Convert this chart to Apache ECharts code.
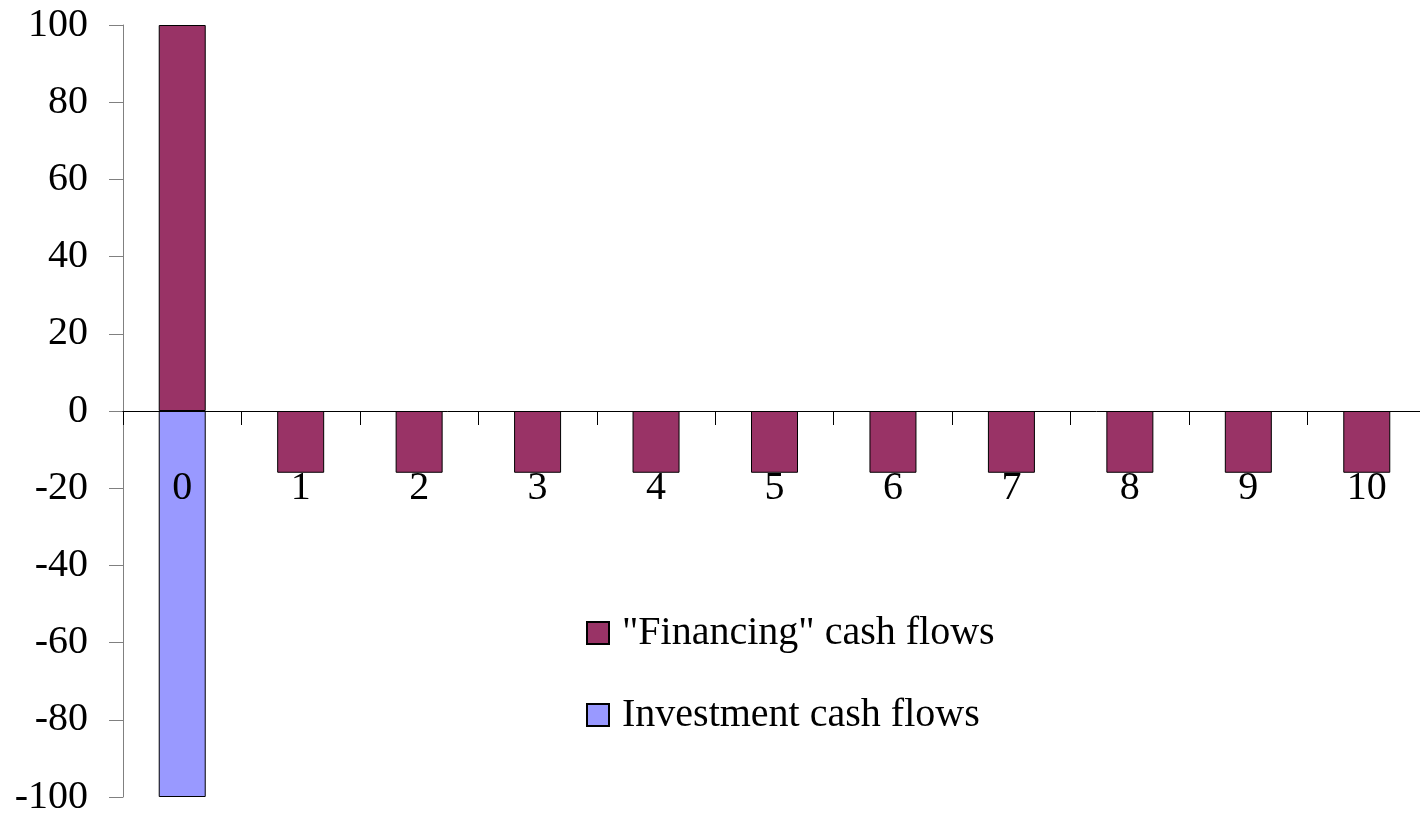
<!DOCTYPE html>
<html>
<head>
<meta charset="utf-8">
<script src="https://cdn.jsdelivr.net/npm/echarts@6/dist/echarts.min.js"></script>
<style>
html,body{margin:0;padding:0;background:#fff;}
#chart{width:1420px;height:815px;}
</style>
</head>
<body>
<div id="chart"></div>
<script>
const categories = ['0','1','2','3','4','5','6','7','8','9','10'];
const financing = [100,-16,-16,-16,-16,-16,-16,-16,-16,-16,-16];
const investment = [-100,null,null,null,null,null,null,null,null,null,null];
const seriesNames = ['"Financing" cash flows','Investment cash flows'];

const FONT = '"Liberation Serif", "DejaVu Serif", serif';
const chart = echarts.init(document.getElementById('chart'), null, {renderer:'canvas'});
chart.setOption({
  animation:false,
  backgroundColor:'#fff',
  textStyle:{fontFamily:FONT},
  grid:{left:123, right:-6, top:25, bottom:18, containLabel:false, outerBoundsMode:'none'},
  legend:{
    orient:'vertical', left:581, top:608,
    itemWidth:22, itemHeight:22, itemGap:42,
    icon:'rect',
    textStyle:{fontFamily:FONT, fontSize:40, color:'#000', padding:[0,0,0,8]},
    data:seriesNames
  },
  xAxis:{
    type:'category', data:categories, z:5,
    axisLine:{onZero:true, lineStyle:{color:'#000', width:1}},
    axisTick:{show:true, length:14, inside:false, lineStyle:{color:'#000'}},
    axisLabel:{margin:-329, fontFamily:FONT, fontSize:40, color:'#000'},
    splitLine:{show:false}
  },
  yAxis:{
    type:'value', min:-100, max:100, interval:20,
    axisLine:{show:true, lineStyle:{color:'#808080', width:1}},
    axisTick:{show:true, length:14, lineStyle:{color:'#808080'}},
    axisLabel:{margin:35, fontFamily:FONT, fontSize:40, color:'#000'},
    splitLine:{show:false}
  },
  series:[
    {name:seriesNames[0], type:'bar', stack:'cf', data:financing, barWidth:47,
     itemStyle:{color:'#993366', borderColor:'#000', borderWidth:1}},
    {name:seriesNames[1], type:'bar', stack:'cf', data:investment, barWidth:47,
     itemStyle:{color:'#9999FF', borderColor:'#000', borderWidth:1}}
  ]
});
</script>
</body>
</html>
